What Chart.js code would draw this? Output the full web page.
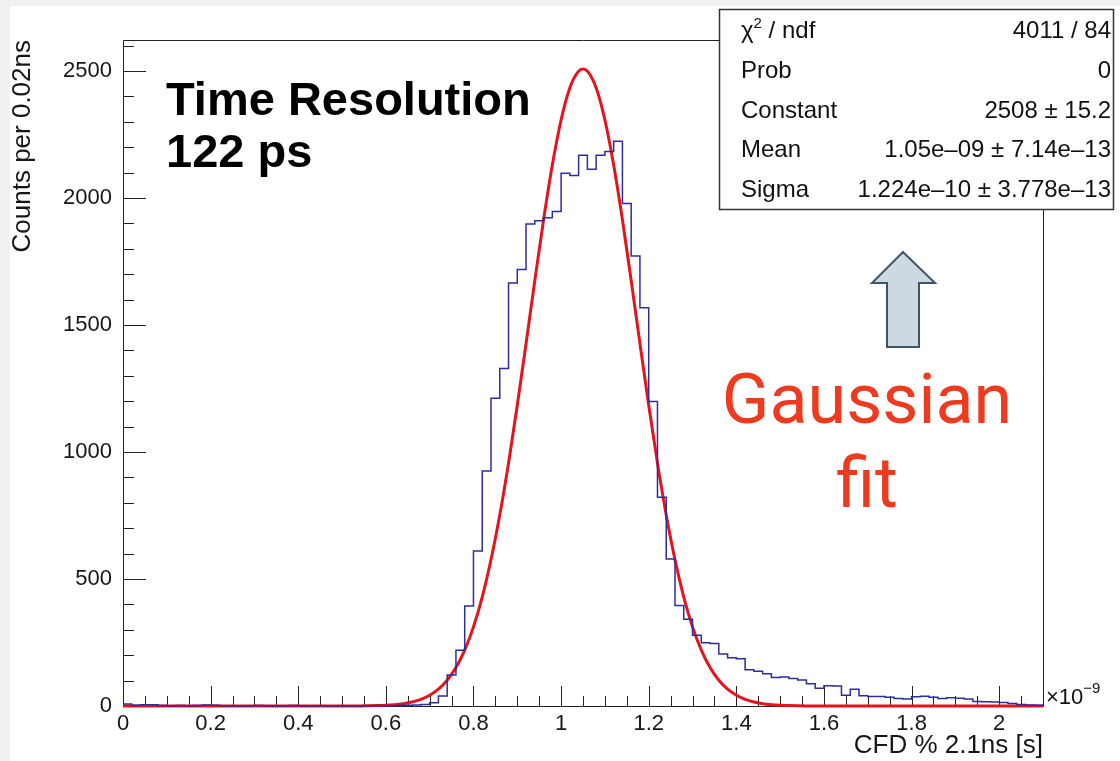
<!DOCTYPE html>
<html>
<head>
<meta charset="utf-8">
<script src="https://cdn.jsdelivr.net/npm/chart.js@4.4.1/dist/chart.umd.min.js"></script>
<style>
  html, body { margin:0; padding:0; width:1120px; height:761px; overflow:hidden; background:#f1f1f1; }
  #panel { position:absolute; left:10px; top:6px; width:1110px; height:755px; background:#ffffff; }
  #c { position:absolute; left:0; top:0; }
  #ov { position:absolute; left:0; top:0; }
</style>
</head>
<body>
<div id="panel"></div>
<canvas id="c" width="1120" height="761"></canvas>
<svg id="ov" width="1120" height="761" xmlns="http://www.w3.org/2000/svg">
  <text x="166" y="115" font-family="Liberation Sans, Arial, sans-serif" font-weight="bold" font-size="47" fill="#000">Time Resolution</text>
  <text x="166" y="167" font-family="Liberation Sans, Arial, sans-serif" font-weight="bold" font-size="47" fill="#000">122 ps</text>

  <polygon points="903,252 935,283 919,283 919,347 887,347 887,283 872,283" fill="#cdd8e0" stroke="#3e5566" stroke-width="2" stroke-linejoin="miter"/>

  <text x="867" y="423" text-anchor="middle" font-family="Roboto, sans-serif" font-size="70" fill="#ee3a1f">Gaussian</text>
  <text x="867" y="507" text-anchor="middle" font-family="Roboto, sans-serif" font-size="70" fill="#ee3a1f">fit</text>

  <g font-family="Liberation Sans, Arial, sans-serif" font-size="24" fill="#111">
    <rect x="719.5" y="9.5" width="394" height="200" fill="#ffffff" stroke="#333" stroke-width="1.5"/>
    <text x="741" y="38">χ<tspan font-size="15" dy="-10">2</tspan><tspan dy="10"> / ndf</tspan></text>
    <text x="741" y="78">Prob</text>
    <text x="741" y="118">Constant</text>
    <text x="741" y="157">Mean</text>
    <text x="741" y="197">Sigma</text>
    <text id="v0" x="1111" y="38" text-anchor="end"></text>
    <text id="v1" x="1111" y="78" text-anchor="end"></text>
    <text id="v2" x="1111" y="118" text-anchor="end"></text>
    <text id="v3" x="1111" y="157" text-anchor="end"></text>
    <text id="v4" x="1111" y="197" text-anchor="end"></text>
  </g>

  <text x="1046" y="704" font-family="Liberation Sans, Arial, sans-serif" font-size="22" fill="#111">×10<tspan font-size="15" dy="-11">−9</tspan></text>
</svg>

<script>
// ---- data ----
const binStart = 0;        // ns
const binWidth = 0.02;     // ns
const counts = [
  8, 3, 5, 5, 2, 1, 2, 0, 2, 4,
  3, 1, 1, 0, 1, 2, 1, 0, 1, 2,
  1, 0, 1, 0, 1, 0, 1, 0, 1, 2,
  1, 2, 3, 4, 6, 13, 39, 122, 219, 394,
  610, 925, 1212, 1329, 1665, 1718, 1898, 1910, 1922, 1947,
  2097, 2089, 2168, 2113, 2168, 2183, 2223, 1978, 1772, 1568,
  1199, 822, 579, 396, 342, 279, 249, 246, 205, 190,
  186, 143, 137, 127, 112, 114, 108, 102, 88, 70,
  80, 79, 42, 66, 40, 37, 37, 34, 30, 28,
  36, 38, 34, 30, 32, 31, 28, 18, 17, 16,
  14, 10, 6, 4, 3
];
const fitX = [0, 0.40, 0.50, 0.52, 0.54, 0.56, 0.58, 0.60, 0.62, 0.64, 0.66, 0.68,
  0.70, 0.72, 0.74, 0.76, 0.78, 0.80, 0.82, 0.84, 0.86, 0.88, 0.90, 0.92, 0.94, 0.96, 0.98,
  1.00, 1.02, 1.04, 1.05, 1.06, 1.08, 1.10, 1.12, 1.14, 1.16, 1.18, 1.20, 1.22, 1.24, 1.26,
  1.28, 1.30, 1.32, 1.34, 1.36, 1.38, 1.40, 1.42, 1.44, 1.46, 1.48, 1.50, 1.52, 1.54, 1.56,
  1.58, 1.60, 1.70, 2.10];
const fitY = [0, 0, 0.1, 0.2, 0.4, 0.8, 1.6, 2.9, 5.2, 9.2, 15.7, 26.0,
  42.1, 66.2, 101.5, 151.5, 220.1, 311.5, 429.1, 575.6, 751.9, 956.1, 1183.8, 1426.8, 1674.8, 1914.1, 2129.8,
  2307.1, 2433.8, 2499.6, 2508, 2499.6, 2433.8, 2307.1, 2129.8, 1914.1, 1674.8, 1426.8, 1183.8, 956.1, 751.9, 575.6,
  429.1, 311.5, 220.1, 151.5, 101.5, 66.2, 42.1, 26.0, 15.7, 9.2, 5.2, 2.9, 1.6, 0.8, 0.4,
  0.2, 0.1, 0, 0];
const xRange = [0, 2.1];
const yRange = [0, 2622];
const xTickValues = [0, 0.2, 0.4, 0.6, 0.8, 1, 1.2, 1.4, 1.6, 1.8, 2];
const yTickValues = [0, 500, 1000, 1500, 2000, 2500];
const xMinorStep = 0.05, yMinorStep = 100;
const statValues = ["4011 / 84", "0", "2508 ± 15.2", "1.05e–09 ± 7.14e–13", "1.224e–10 ± 3.778e–13"];
const xTitle = "CFD % 2.1ns [s]";
const yTitle = "Counts per 0.02ns";

statValues.forEach((s, i) => { document.getElementById('v' + i).textContent = s; });

// ---- build datasets ----
const histPts = counts.map((c, i) => ({ x: binStart + i * binWidth, y: c }));
histPts.push({ x: xRange[1], y: counts[counts.length - 1] });
const fitPts = fitX.map((x, i) => ({ x: x, y: fitY[i] }));

const FONT = '"Liberation Sans", Arial, sans-serif';
Chart.defaults.font.family = FONT;

// ROOT-style frame with inside ticks, positioned through the chart's scales
const rootFrame = {
  id: 'rootFrame',
  beforeDatasetsDraw(chart) {
    const { ctx, chartArea: a, scales: { x, y } } = chart;
    ctx.save();
    ctx.strokeStyle = '#222';
    ctx.lineWidth = 1;
    ctx.beginPath();
    ctx.rect(Math.round(a.left) + 0.5, Math.round(a.top) + 0.5,
             Math.round(a.right - a.left), Math.round(a.bottom - a.top));
    ctx.stroke();
    ctx.beginPath();
    const nx = Math.round((xRange[1] - xRange[0]) / xMinorStep);
    for (let i = 0; i <= nx; i++) {
      const v = xRange[0] + i * xMinorStep;
      const px = Math.round(x.getPixelForValue(v)) + 0.5;
      const major = xTickValues.some(t => Math.abs(t - v) < 1e-6);
      ctx.moveTo(px, a.bottom);
      ctx.lineTo(px, a.bottom - (major ? 20 : 10));
    }
    const ny = Math.floor((yRange[1] - yRange[0]) / yMinorStep);
    for (let i = 0; i <= ny; i++) {
      const v = yRange[0] + i * yMinorStep;
      const py = Math.round(y.getPixelForValue(v)) + 0.5;
      const major = yTickValues.includes(v);
      ctx.moveTo(a.left, py);
      ctx.lineTo(a.left + (major ? 23 : 11), py);
    }
    ctx.stroke();
    ctx.restore();
  }
};

new Chart(document.getElementById('c'), {
  type: 'line',
  data: {
    datasets: [
      {
        label: 'histogram',
        data: histPts,
        stepped: 'before',
        borderColor: '#2e2e98',
        borderWidth: 1.5,
        pointRadius: 0,
        fill: false,
        tension: 0,
        clip: 3
      },
      {
        label: 'gaus fit',
        data: fitPts,
        borderColor: '#e3141c',
        borderWidth: 3,
        pointRadius: 0,
        fill: false,
        cubicInterpolationMode: 'monotone',
        clip: false
      }
    ]
  },
  options: {
    responsive: false,
    animation: false,
    devicePixelRatio: 1,
    layout: { padding: { left: 0, top: 40, right: 77, bottom: 0 } },
    plugins: { legend: { display: false }, tooltip: { enabled: false }, title: { display: false } },
    scales: {
      x: {
        type: 'linear',
        min: xRange[0], max: xRange[1],
        afterFit(s) { s.height = 55; },
        afterBuildTicks(s) { s.ticks = xTickValues.map(v => ({ value: v })); },
        grid: { display: false, drawTicks: false },
        border: { display: false },
        ticks: {
          autoSkip: false, maxRotation: 0,
          padding: 5, color: '#161616', font: { size: 22 },
          callback: v => String(Math.round(v * 10) / 10)
        },
        title: {
          display: true, text: xTitle, align: 'end', color: '#161616',
          font: { size: 26 }, padding: { top: 0, bottom: 0 }
        }
      },
      y: {
        type: 'linear',
        min: yRange[0], max: yRange[1],
        afterFit(s) { s.width = 123; },
        afterBuildTicks(s) { s.ticks = yTickValues.map(v => ({ value: v })); },
        grid: { display: false, drawTicks: false },
        border: { display: false },
        ticks: {
          autoSkip: false,
          padding: 11, color: '#161616', font: { size: 22 },
          callback: v => String(v)
        },
        title: {
          display: true, text: yTitle, align: 'end', color: '#161616',
          font: { size: 26 }, padding: { top: 7, bottom: 0 }
        }
      }
    }
  },
  plugins: [rootFrame]
});
</script>
</body>
</html>
